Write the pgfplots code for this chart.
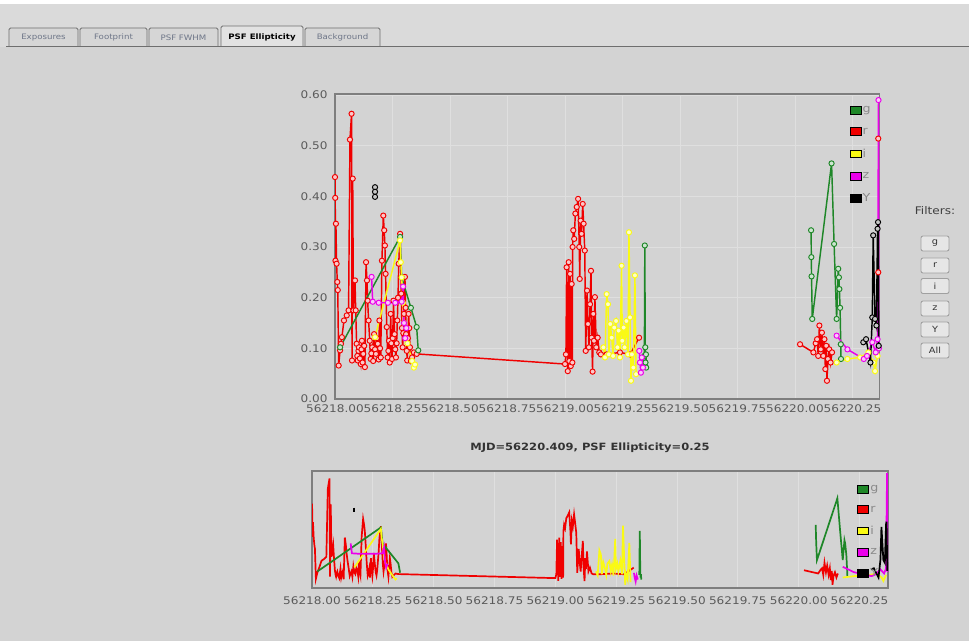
\documentclass[border=0pt]{standalone}
\usepackage{fontspec}
\setmainfont{DejaVu Sans}
\newfontfamily\uifont{DejaVu Sans}[FakeStretch=1.15]
\usepackage{pgfplots}
\usepackage{pgfplotstable}
\pgfplotsset{compat=1.18}

\definecolor{bgc}{HTML}{D3D3D3}
\definecolor{topc}{HTML}{DADADA}
\definecolor{gridc}{HTML}{DFDFDF}
\definecolor{axc}{HTML}{7E7E7E}
\definecolor{tickc}{HTML}{5A5A5A}
\definecolor{legc}{HTML}{8A8A8A}
\definecolor{tabc}{HTML}{D6D6D6}
\definecolor{tabact}{HTML}{E2E2E2}
\definecolor{tabb}{HTML}{6E6E6E}
\definecolor{tabt}{HTML}{6E7688}
\definecolor{btnc}{HTML}{E6E6E6}
\definecolor{btnb}{HTML}{A0A0A0}
\definecolor{gcol}{RGB}{30,135,40}
\definecolor{rcol}{RGB}{240,0,0}
\definecolor{icol}{RGB}{250,250,20}
\definecolor{zcol}{RGB}{235,0,235}
\definecolor{ycol}{RGB}{0,0,0}

% ---------------- data (x = MJD - 56218) ----------------
\pgfplotstableread{
x y
0.000 0.438
0.001 0.397
0.002 0.273
0.004 0.346
0.007 0.267
0.010 0.231
0.012 0.215
0.016 0.066
0.022 0.096
0.026 0.109
0.030 0.122
0.039 0.155
0.051 0.165
0.059 0.175
0.065 0.512
0.072 0.563
0.074 0.076
0.077 0.435
0.080 0.175
0.087 0.234
0.090 0.175
0.094 0.109
0.097 0.085
0.099 0.076
0.102 0.095
0.104 0.102
0.108 0.080
0.112 0.069
0.115 0.098
0.117 0.115
0.120 0.072
0.123 0.089
0.127 0.105
0.130 0.063
0.135 0.270
0.139 0.234
0.142 0.194
0.146 0.155
0.151 0.115
0.155 0.079
0.158 0.090
0.162 0.102
0.166 0.075
0.170 0.128
0.174 0.098
0.178 0.089
0.182 0.120
0.186 0.109
0.190 0.078
0.193 0.155
0.196 0.100
0.199 0.082
0.204 0.273
0.210 0.362
0.214 0.333
0.217 0.303
0.220 0.247
0.225 0.142
0.229 0.082
0.232 0.095
0.235 0.115
0.238 0.072
0.242 0.168
0.245 0.110
0.248 0.079
0.251 0.120
0.254 0.194
0.259 0.128
0.262 0.098
0.265 0.082
0.268 0.110
0.271 0.155
0.274 0.200
0.277 0.267
0.283 0.326
0.288 0.208
0.291 0.140
0.294 0.102
0.297 0.130
0.300 0.168
0.304 0.241
0.307 0.180
0.309 0.128
0.312 0.095
0.314 0.076
0.317 0.120
0.320 0.168
0.323 0.140
0.326 0.102
0.330 0.075
0.335 0.082
0.343 0.092
0.355 0.089
1.000 0.069
1.004 0.088
1.007 0.260
1.012 0.055
1.016 0.270
1.019 0.075
1.022 0.247
1.025 0.065
1.029 0.227
1.032 0.072
1.033 0.300
1.036 0.333
1.040 0.316
1.045 0.366
1.051 0.379
1.057 0.395
1.062 0.300
1.064 0.237
1.068 0.352
1.072 0.326
1.077 0.385
1.081 0.346
1.086 0.293
1.090 0.095
1.096 0.214
1.100 0.148
1.104 0.102
1.109 0.187
1.113 0.253
1.116 0.121
1.120 0.054
1.123 0.168
1.126 0.115
1.130 0.201
1.136 0.102
1.142 0.121
1.149 0.092
1.156 0.088
1.181 0.088
1.239 0.092
1.283 0.088
1.322 0.121
}\tRa
\pgfplotstableread{
x y
2.022 0.108
2.080 0.092
2.090 0.110
2.096 0.118
2.101 0.085
2.106 0.145
2.112 0.098
2.117 0.131
2.123 0.085
2.128 0.118
2.132 0.059
2.136 0.105
2.139 0.036
2.143 0.079
2.149 0.098
2.155 0.072
2.161 0.092
}\tRb
\pgfplotstableread{
x y
2.362 0.514
2.362 0.250
}\tRc
\pgfplotstableread{
x y
0.022 0.102
0.283 0.320
0.290 0.240
0.330 0.180
0.355 0.142
0.362 0.096
}\tGa
\pgfplotstableread{
x y
1.345 0.085
1.347 0.303
1.349 0.102
1.350 0.072
1.352 0.088
1.353 0.062
}\tGb
\pgfplotstableread{
x y
2.070 0.333
2.071 0.280
2.072 0.242
2.075 0.158
2.159 0.465
2.170 0.306
2.181 0.158
2.188 0.257
2.191 0.240
2.193 0.217
2.196 0.180
2.199 0.108
2.200 0.079
}\tGc
\pgfplotstableread{
x y
0.174 0.122
0.283 0.313
0.286 0.270
0.290 0.240
0.295 0.190
0.300 0.150
0.315 0.110
0.335 0.075
0.343 0.062
0.348 0.068
}\tIa
\pgfplotstableread{
x y
1.167 0.102
1.174 0.082
1.181 0.207
1.187 0.187
1.191 0.088
1.197 0.148
1.203 0.121
1.209 0.085
1.214 0.141
1.222 0.154
1.228 0.102
1.233 0.135
1.239 0.082
1.246 0.263
1.249 0.115
1.255 0.141
1.259 0.102
1.267 0.154
1.274 0.088
1.278 0.329
1.283 0.161
1.287 0.036
1.291 0.088
1.297 0.062
1.304 0.244
1.309 0.049
}\tIb
\pgfplotstableread{
x y
2.181 0.072
2.228 0.079
2.283 0.082
2.319 0.092
2.341 0.072
2.348 0.055
2.359 0.085
}\tIc
\pgfplotstableread{
x y
0.159 0.241
0.164 0.192
0.190 0.190
0.230 0.190
0.262 0.190
0.290 0.192
0.296 0.222
0.300 0.150
0.305 0.120
0.310 0.140
}\tZa
\pgfplotstableread{
x y
1.323 0.095
1.326 0.072
1.330 0.052
1.334 0.082
1.339 0.062
}\tZb
\pgfplotstableread{
x y
2.181 0.125
2.228 0.098
2.299 0.079
2.313 0.085
2.336 0.112
2.351 0.092
2.359 0.118
2.363 0.590
2.365 0.100
}\tZc
\pgfplotstableread{
x y
0.174 0.418
0.174 0.409
0.174 0.399
}\tYa
\pgfplotstableread{
x y
2.297 0.112
2.309 0.118
2.328 0.072
2.336 0.161
2.340 0.323
2.348 0.158
2.354 0.145
2.359 0.336
2.361 0.349
2.364 0.105
}\tYc

\pgfplotsset{
  ser/.style={#1, line width=1.45pt, mark=*, mark size=2.6pt,
    mark options={draw=#1, fill=#1!22!white, line width=0.95pt, solid}},
  ov/.style={#1, line width=1.7pt, no markers},
  common/.style={
    scale only axis,
    xmin=0, xmax=2.367,
    xtick={0,0.25,0.5,0.75,1,1.25,1.5,1.75,2,2.25},
    xticklabels={56218.00,56218.25,56218.50,56218.75,56219.00,56219.25,56219.50,56219.75,56220.00,56220.25},
    major tick length=0pt,
    tick style={draw=none},
    ticklabel style={font=\uifont\fontsize{10.5}{12}\selectfont, text=tickc},
    xmajorgrids,
    grid style={gridc, line width=0.9pt},
    axis line style={axc, line width=1.6pt},
    legend image code/.code={\fill[##1] (0pt,-3.6pt) rectangle (11pt,4pt);},
    legend cell align=left,
  },
}

\begin{document}
\begin{tikzpicture}[x=1pt,y=1pt]
\useasboundingbox (0,0) rectangle (969,641);
\fill[bgc] (0,0) rectangle (969,641);
\fill[topc] (0,594) rectangle (969,637);
\fill[white] (0,637) rectangle (969,641);

% tabs
\tikzset{tab/.style={draw=tabb, line width=0.9pt, fill=tabc, rounded corners=1.5pt}}
\draw[tab] (9,594) -- (9,613) -- (78,613) -- (78,594);
\draw[tab] (80,594) -- (80,613) -- (147,613) -- (147,594);
\draw[tab] (149,594) -- (149,613) -- (218,613) -- (218,594);
\draw[tab, fill=tabact] (221,594) -- (221,615) -- (303,615) -- (303,594);
\draw[tab] (305,594) -- (305,613) -- (380,613) -- (380,594);
\draw[tabb, line width=1.3pt] (6,594.5) -- (969,594.5);
\node[font=\uifont\fontsize{7.5}{9}\selectfont, text=tabt] at (43.5,603.5) {Exposures};
\node[font=\uifont\fontsize{7.5}{9}\selectfont, text=tabt] at (113.5,603.5) {Footprint};
\node[font=\uifont\fontsize{7.5}{9}\selectfont, text=tabt] at (183.5,603.5) {PSF FWHM};
\node[font=\uifont\bfseries\fontsize{7.5}{9}\selectfont, text=black] at (262,604) {PSF Ellipticity};
\node[font=\uifont\fontsize{7.5}{9}\selectfont, text=tabt] at (342.5,603.5) {Background};

% filters
\node[font=\uifont\fontsize{10.5}{12}\selectfont, text=black!75] at (935,430) {Filters:};
\tikzset{btn/.style={draw=btnb, fill=btnc, rounded corners=2pt, line width=0.9pt, minimum width=28pt, minimum height=15pt, inner sep=0pt, font=\uifont\fontsize{8.5}{10}\selectfont, text=black!80}}
\node[btn] at (935,397.5) {g};
\node[btn] at (935,375.5) {r};
\node[btn] at (935,355) {i};
\node[btn] at (935,332.5) {z};
\node[btn] at (935,311.5) {Y};
\node[btn] at (935,290.5) {All};

% main chart
\begin{axis}[common,
  at={(335pt,242pt)}, anchor=south west,
  width=544.4pt, height=305pt,
  ymin=0, ymax=0.602,
  ytick={0,0.1,0.2,0.3,0.4,0.5,0.6},
  yticklabels={0.00,0.10,0.20,0.30,0.40,0.50,0.60},
  ymajorgrids,
  xticklabel style={yshift=-2pt},
  yticklabel style={xshift=-4pt},
  legend style={draw=none, fill=none, at={(1,1)}, anchor=north east,
    xshift=-7pt, yshift=-11pt, inner sep=0pt, row sep=10.5pt,
    font=\uifont\fontsize{11}{12}\selectfont, text=legc,
    nodes={inner sep=1.5pt}},
]
\addplot[ser=rcol, forget plot] table {\tRa};
\addplot[ser=rcol, forget plot] table {\tRb};
\addplot[ser=rcol, only marks, forget plot] table {\tRc};
\addplot[ser=gcol, forget plot] table {\tGa};
\addplot[ser=gcol, forget plot] table {\tGb};
\addplot[ser=gcol, forget plot] table {\tGc};
\addplot[ser=icol, forget plot] table {\tIa};
\addplot[ser=icol, forget plot] table {\tIb};
\addplot[ser=icol, forget plot] table {\tIc};
\addplot[ser=zcol, forget plot] table {\tZa};
\addplot[ser=zcol, forget plot] table {\tZb};
\addplot[ser=zcol, forget plot] table {\tZc};
\addplot[ser=ycol, forget plot] table {\tYa};
\addplot[ser=ycol, forget plot] table {\tYc};
\addlegendimage{fill=gcol}\addlegendentry{g}
\addlegendimage{fill=rcol}\addlegendentry{r}
\addlegendimage{fill=icol}\addlegendentry{i}
\addlegendimage{fill=zcol}\addlegendentry{z}
\addlegendimage{fill=ycol}\addlegendentry{Y}
\end{axis}

\node[font=\uifont\bfseries\fontsize{10}{12}\selectfont, text=black!80] at (590,193) {MJD=56220.409, PSF Ellipticity=0.25};

% overview chart
\begin{axis}[common,
  at={(312pt,53pt)}, anchor=south west,
  width=576pt, height=117pt,
  ymin=0.02, ymax=0.6,
  ytick=\empty,
  xticklabel style={yshift=-5pt},
  legend style={draw=none, fill=none, at={(1,1)}, anchor=north east,
    xshift=-8pt, yshift=-13pt, inner sep=0pt, row sep=9.5pt,
    font=\uifont\fontsize{11}{12}\selectfont, text=legc,
    nodes={inner sep=1.5pt}},
]
\addplot[ov=rcol, forget plot] table {\tRa};
\addplot[ov=rcol, forget plot] table {\tRb};
\addplot[ov=gcol, forget plot] table {\tGa};
\addplot[ov=gcol, forget plot] table {\tGb};
\addplot[ov=gcol, forget plot] table {\tGc};
\addplot[ov=icol, forget plot] table {\tIa};
\addplot[ov=icol, forget plot] table {\tIb};
\addplot[ov=icol, forget plot] table {\tIc};
\addplot[ov=zcol, forget plot] table {\tZa};
\addplot[ov=zcol, forget plot] table {\tZb};
\addplot[ov=zcol, forget plot] table {\tZc};
\addplot[ov=ycol, forget plot] table {\tYa};
\addplot[ov=ycol, forget plot] table {\tYc};
\addlegendimage{fill=gcol}\addlegendentry{g}
\addlegendimage{fill=rcol}\addlegendentry{r}
\addlegendimage{fill=icol}\addlegendentry{i}
\addlegendimage{fill=zcol}\addlegendentry{z}
\addlegendimage{fill=ycol}\addlegendentry{Y}
\end{axis}
\end{tikzpicture}
\end{document}
